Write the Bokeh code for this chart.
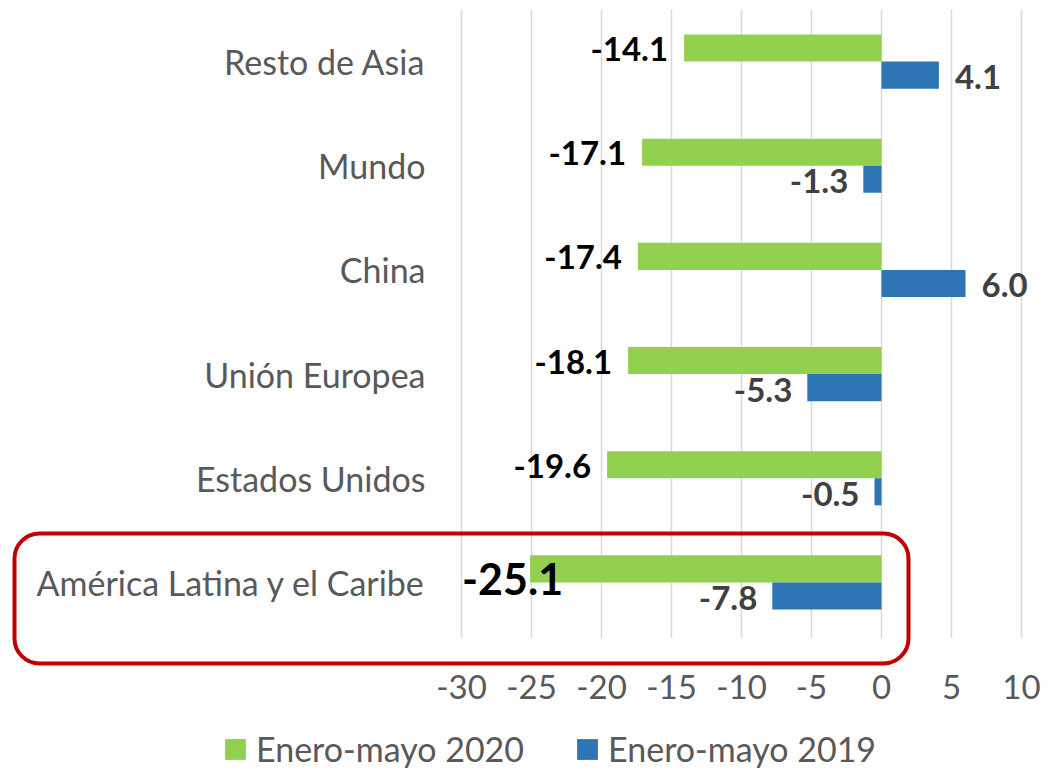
from bokeh.plotting import figure
from bokeh.models import ColumnDataSource, Range1d, BoxAnnotation, Legend, LegendItem
from bokeh.core.properties import value
from bokeh.embed import file_html
from bokeh.resources import INLINE

categories = ["América Latina y el Caribe", "Estados Unidos", "Unión Europea", "China", "Mundo", "Resto de Asia"]
v2020 = [-25.1, -19.6, -18.1, -17.4, -17.1, -14.1]
v2019 = [-7.8, -0.5, -5.3, 6.0, -1.3, 4.1]
series = ["Enero-mayo 2020", "Enero-mayo 2019"]
ticks = [-30, -25, -20, -15, -10, -5, 0, 5, 10]

FONT = "Lato"
GREEN = "#92D050"
BLUE = "#2E75B6"
GREY = "#595959"

# layout geometry (pixels)
W, H = 1045, 769
PLOT_L, PLOT_R, PLOT_T, PLOT_B = 461, 1021, 9, 634
xmin, xmax = ticks[0], ticks[-1]
pxu = (PLOT_R - PLOT_L) / (xmax - xmin)
n = len(categories)
pyu = (PLOT_B - PLOT_T) / n

x_range = Range1d(xmin - PLOT_L / pxu, xmin + (W - PLOT_L) / pxu)
y_range = Range1d(-0.5 - (H - PLOT_B) / pyu, n - 0.5 + PLOT_T / pyu)

def fmt(v):
    return f"{v:.1f}"

idx = list(range(n))
src = ColumnDataSource(dict(
    y=idx, cat=categories, v2020=v2020, v2019=v2019,
    y20=[i + 0.13 for i in idx], y19=[i - 0.13 for i in idx],
    l2019=[fmt(v) for v in v2019],
    a2019=["right" if v < 0 else "left" for v in v2019],
    o2019=[-15 if v < 0 else 16 for v in v2019],
))

p = figure(width=W, height=H, x_range=x_range, y_range=y_range,
           x_axis_location=None, y_axis_location=None,
           output_backend="svg", toolbar_location=None, min_border=0)
p.outline_line_color = None
p.grid.visible = False

# vertical grid lines at the ticks
p.segment(x0=ticks, x1=ticks, y0=[-0.5 - 0.03] * len(ticks), y1=[n - 0.5] * len(ticks),
          line_color="#D9D9D9", line_width=1.5)

r20 = p.hbar(y="y20", right="v2020", left=0, height=0.26, source=src,
             fill_color=GREEN, line_color=None)
r19 = p.hbar(y="y19", right="v2019", left=0, height=0.26, source=src,
             fill_color=BLUE, line_color=None)

# green labels (except the highlighted one)
src_g = ColumnDataSource(dict(y=[i + 0.13 for i in idx[1:]], v=v2020[1:], l=[fmt(v) for v in v2020[1:]]))
p.text(x="v", y="y", text="l", source=src_g,
       text_align="right", text_baseline="middle", x_offset=-16, y_offset=1,
       text_font=value(FONT), text_font_style="bold", text_font_size="33px", text_color="black")
src_big = ColumnDataSource(dict(y=[idx[0] + 0.13], v=v2020[:1], l=[fmt(v2020[0])]))
p.text(x="v", y="y", text="l", source=src_big,
       text_align="right", text_baseline="middle", x_offset=33, y_offset=10,
       text_font=value(FONT), text_font_style="bold", text_font_size="43px", text_color="black")
p.text(x="v2019", y="y19", text="l2019", source=src,
       text_align="a2019", text_baseline="middle", x_offset="o2019", y_offset=2,
       text_font=value(FONT), text_font_style="bold", text_font_size="33px", text_color="#404040")

# category axis labels
p.text(x=[xmin] * n, y=idx, text=categories, x_offset=-36,
       text_align="right", text_baseline="middle",
       text_font=value(FONT), text_font_size="34px", text_color=GREY)

# value axis labels
p.text(x=ticks, y=[-0.5] * len(ticks), text=[str(t) for t in ticks], y_offset=52,
       text_align="center", text_baseline="middle",
       text_font=value(FONT), text_font_size="33px", text_color=GREY)

box = BoxAnnotation(left=14, right=908, top=533, bottom=663,
                    left_units="canvas", right_units="canvas", top_units="canvas", bottom_units="canvas",
                    fill_alpha=0, line_color="#C00000", line_alpha=1, line_width=4, border_radius=25)
p.add_layout(box)

legend = Legend(items=[LegendItem(label=series[0], renderers=[r20]),
                       LegendItem(label=series[1], renderers=[r19])],
                orientation="horizontal", location=(222, 0),
                label_text_font=FONT, label_text_font_size="34px", label_text_color=GREY,
                glyph_width=26, glyph_height=26, spacing=50, border_line_color=None,
                background_fill_alpha=0, padding=0, margin=0, label_standoff=8)
p.add_layout(legend, "center")

open("out.html", "w").write(file_html(p, INLINE))
